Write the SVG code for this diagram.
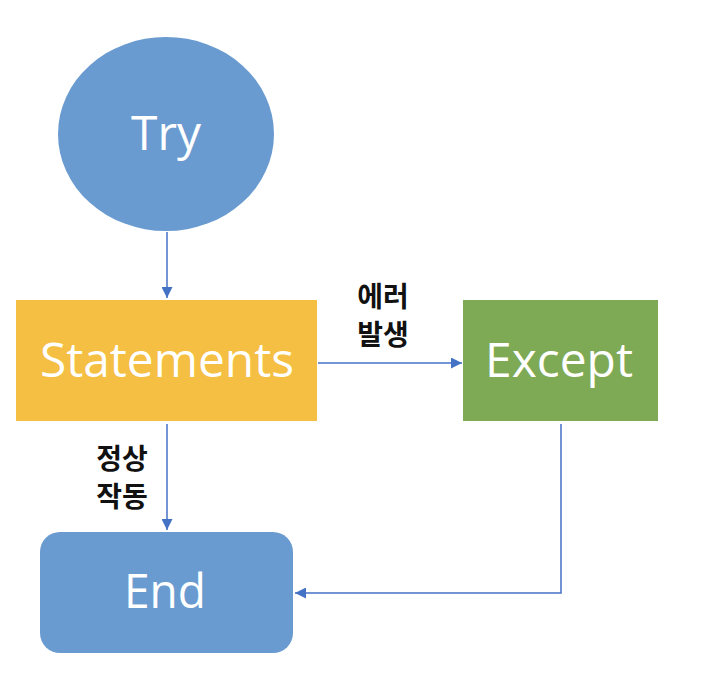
<svg xmlns="http://www.w3.org/2000/svg" width="712" height="684" viewBox="0 0 712 684">
<style>
.lbl{font-family:"Open Sans","Noto Sans",sans-serif;fill:#ffffff;font-size:47px;text-anchor:middle}
.ko{font-family:"Noto Sans CJK KR",sans-serif;fill:#111111;font-size:28px;font-weight:bold;text-anchor:middle}
.ln{fill:none;stroke:#4472C4;stroke-width:1.5}
</style>
<defs>
<marker id="ah" viewBox="0 0 10 10" refX="10" refY="5" markerWidth="11" markerHeight="11" markerUnits="userSpaceOnUse" orient="auto">
<path d="M0,0 L10,5 L0,10 z" fill="#4472C4"/>
</marker>
</defs>
<rect width="712" height="684" fill="#ffffff"/>
<g id="connectors">
<line class="ln" x1="167" y1="232" x2="167" y2="298" marker-end="url(#ah)"/>
<line class="ln" x1="318" y1="363" x2="462" y2="363" marker-end="url(#ah)"/>
<line class="ln" x1="167" y1="424" x2="167" y2="530" marker-end="url(#ah)"/>
<polyline class="ln" points="561,424 561,593 295,593" marker-end="url(#ah)"/>
<text class="ko" x="383" y="307">에러</text>
<text class="ko" x="383" y="345">발생</text>
<text class="ko" x="122" y="469">정상</text>
<text class="ko" x="122" y="507">작동</text>
</g>
<g id="try">
<ellipse cx="166" cy="134" rx="108" ry="97" fill="#6A9BD0"/>
<text class="lbl" x="166" y="150" textLength="70" lengthAdjust="spacingAndGlyphs">Try</text>
</g>
<g id="statements">
<rect x="16" y="300" width="301" height="121" fill="#F4BF42"/>
<text class="lbl" x="167" y="377" textLength="254" lengthAdjust="spacingAndGlyphs">Statements</text>
</g>
<g id="except">
<rect x="463" y="300" width="195" height="121" fill="#7EAA55"/>
<text class="lbl" x="559" y="377" textLength="148" lengthAdjust="spacingAndGlyphs">Except</text>
</g>
<g id="end">
<rect x="40" y="532" width="253" height="121" rx="20" fill="#6A9BD0"/>
<text class="lbl" x="165" y="608" textLength="82" lengthAdjust="spacingAndGlyphs">End</text>
</g>
</svg>
